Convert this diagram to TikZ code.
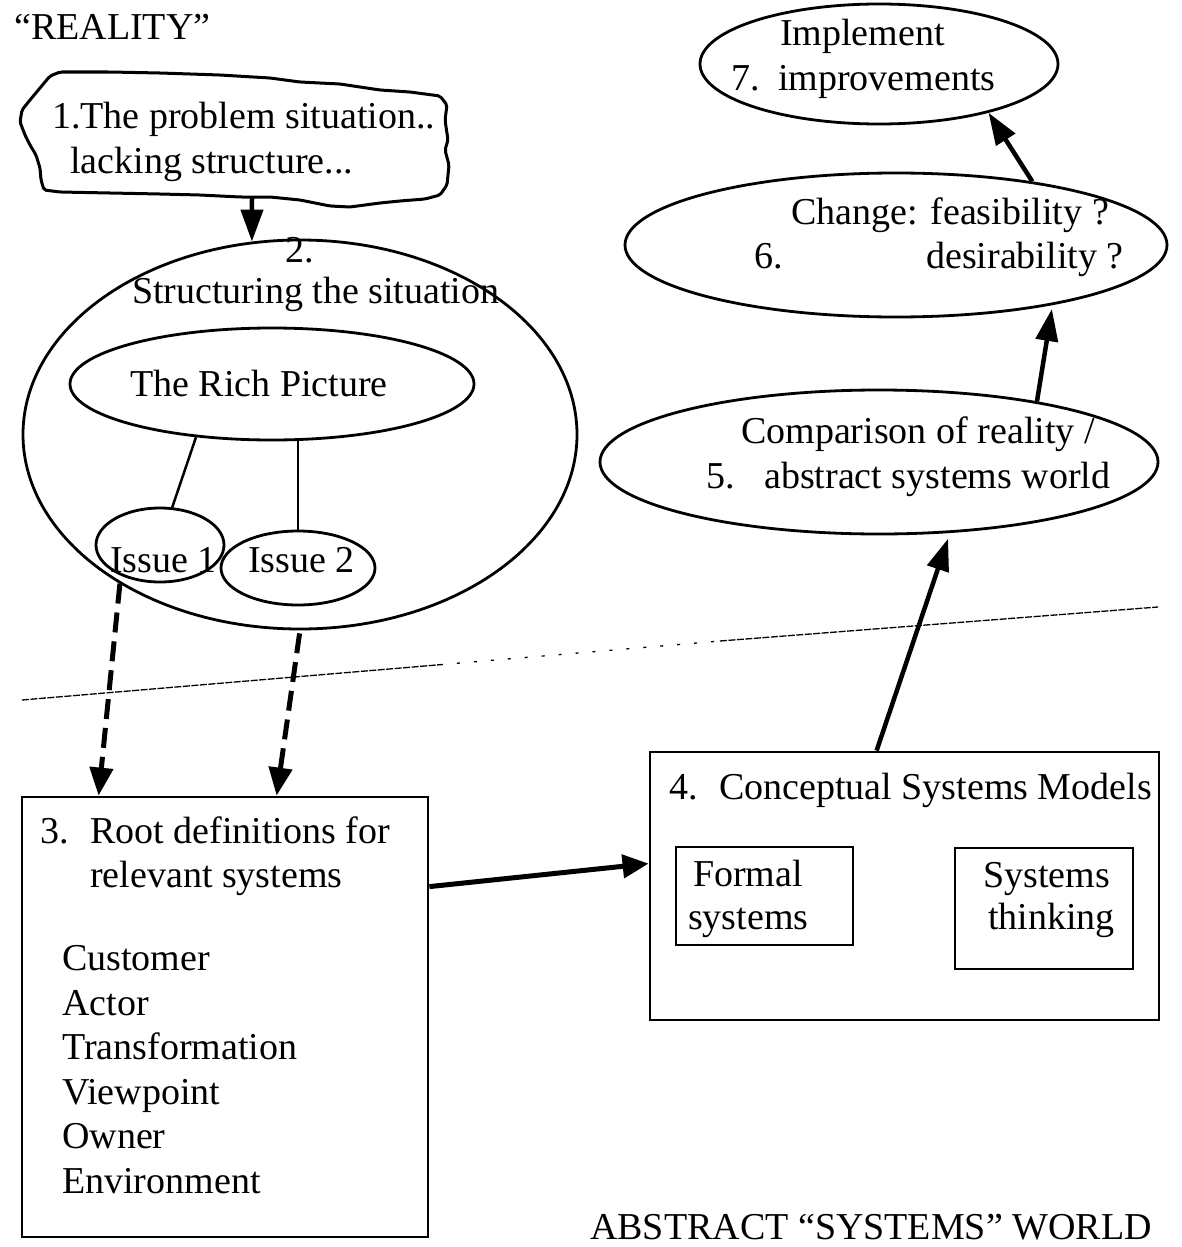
\documentclass[tikz,border=0pt]{standalone}
\usepackage{fontspec}
\setmainfont{Liberation Serif}
\usetikzlibrary{shapes.geometric,arrows.meta}
\begin{document}
\begin{tikzpicture}[x=1pt,y=-1pt,
  txt/.style={anchor=base west, inner sep=0pt, font=\fontsize{38}{45}\selectfont},
  ell/.style={draw, ellipse, line width=2.8pt, inner sep=0pt},
  boxx/.style={draw, rectangle, line width=2.8pt, inner sep=0pt},
  arr/.style={line width=4.5pt, -{Triangle[length=32pt,width=22pt]}},
  darr/.style={line width=5pt, dash pattern=on 20pt off 9pt, -{Triangle[length=28pt,width=23pt]}},
  conn/.style={line width=2.5pt},
  divd/.style={line width=1.3pt, dash pattern=on 7pt off 1.5pt},
  divs/.style={line width=1.3pt, dash pattern=on 3pt off 14pt}]
\useasboundingbox (0,0) rectangle (1181,1247);

% ---- shapes ----
\draw[line width=3pt, rounded corners=2pt]
 (40,88) -- (50,76) -- (60,72) -- (110,72) -- (160,73) -- (220,75) -- (270,78) -- (300,82)
 -- (340,84) -- (380,90) -- (410,92) -- (440,96) -- (447,105) -- (445,120) -- (448,140)
 -- (445,150) -- (449,165) -- (447,185) -- (440,195) -- (425,199) -- (400,201) -- (380,203)
 -- (350,207) -- (330,206) -- (300,200) -- (270,197) -- (240,197) -- (200,195) -- (160,194)
 -- (110,193) -- (60,192) -- (44,190) -- (41,180) -- (40,168) -- (36,155) -- (30,145)
 -- (25,135) -- (20,122) -- (22,110) -- (30,100) -- cycle;
\coordinate (c1bot) at (252,198);

\node[ell, minimum width=554pt, minimum height=389pt] (e2) at (300,434.5) {};
\node[ell, minimum width=404pt, minimum height=112pt] (rich) at (272,384) {};
\node[ell, minimum width=128pt, minimum height=74pt] (iss1) at (160,545) {};
\node[ell, minimum width=154pt, minimum height=74pt] (iss2) at (298,568) {};

\node[boxx, minimum width=406pt, minimum height=440pt] (box3) at (225,1017) {};
\node[boxx, minimum width=509pt, minimum height=268pt] (box4) at (904.5,886) {};
\node[boxx, minimum width=177pt, minimum height=98pt] (formal) at (764.5,896) {};
\node[boxx, minimum width=178pt, minimum height=121pt] (sthink) at (1044,908.5) {};

\node[ell, minimum width=558pt, minimum height=144pt] (e5) at (879,462) {};
\node[ell, minimum width=542pt, minimum height=144pt] (e6) at (896,245) {};
\node[ell, minimum width=358pt, minimum height=120pt] (e7) at (879,64) {};

% ---- divider ----
\coordinate (dvA) at (22,700);
\coordinate (dvB) at (440,664.7);
\coordinate (dvC) at (720,641);
\coordinate (dvD) at (1158,607);
\draw[divd] (dvA) -- (dvB);
\draw[divs] (dvB) -- (dvC);
\draw[divd] (dvC) -- (dvD);

% ---- connectors ----
\draw[arr] (c1bot) -- (e2.104);
\draw[conn] (rich.215) -- (iss1.72);
\draw[conn] (iss2.north |- rich.south) -- (iss2.north);
\draw[darr, shorten <=8pt] (iss1.218) -- ([xshift=78pt]box3.north west);
\draw[darr, shorten <=3pt] (e2.south) -- ([xshift=256pt]box3.north west);
\draw[arr, line width=5pt, -{Triangle[length=26pt,width=23pt]}] ([yshift=-91pt]box3.north east) -- ([yshift=-113pt]box4.north west);
\draw[arr, shorten >=6pt] ([xshift=228pt]box4.north west) -- (e5.-45);
\draw[arr, shorten >=4pt] (e5.21) -- (e6.-21);
\draw[arr] (e6.25) -- (e7.-24);

% ---- texts ----
\node[txt] (treal) at (14,40) {“REALITY”};
\node[txt] (t1a) at (52,128) {1.The problem situation..};
\node[txt] (t1b) at (70,173) {lacking structure...};
\node[txt] (t2a) at (285,262) {2.};
\node[txt] (t2b) at (132,303) {Structuring the situation};
\node[txt] (trich) at (130,396) {The Rich Picture};
\node[txt] (ti1) at (110,572) {Issue 1};
\node[txt] (ti2) at (248,572) {Issue 2};

\node[txt] (t3n) at (40,843) {3.};
\node[txt] (t3a) at (90,843) {Root definitions for};
\node[txt] (t3b) at (90,887) {relevant systems};
\node[txt] (tl1) at (62,970) {Customer};
\node[txt] (tl2) at (62,1015) {Actor};
\node[txt] (tl3) at (62,1059) {Transformation};
\node[txt] (tl4) at (62,1104) {Viewpoint};
\node[txt] (tl5) at (62,1148) {Owner};
\node[txt] (tl6) at (62,1193) {Environment};

\node[txt] (t4n) at (669,799) {4.};
\node[txt] (t4a) at (719,799) {Conceptual Systems Models};
\node[txt] (tfa) at (693,886) {Formal};
\node[txt] (tfb) at (688,929) {systems};
\node[txt] (tsa) at (983,887) {Systems};
\node[txt] (tsb) at (988,929) {thinking};

\node[txt] (t5a) at (741,443) {Comparison of reality /};
\node[txt] (t5n) at (706,488) {5.};
\node[txt] (t5b) at (764,488) {abstract systems world};

\node[txt] (t6a) at (791,224) {Change: feasibility ?};
\node[txt] (t6n) at (754,268) {6.};
\node[txt] (t6b) at (926,268) {desirability ?};

\node[txt] (t7a) at (780,46) {Implement};
\node[txt] (t7n) at (731,90) {7.};
\node[txt] (t7b) at (778,90) {improvements};

\node[txt] (tabs) at (590,1239) {ABSTRACT “SYSTEMS” WORLD};
\end{tikzpicture}
\end{document}
